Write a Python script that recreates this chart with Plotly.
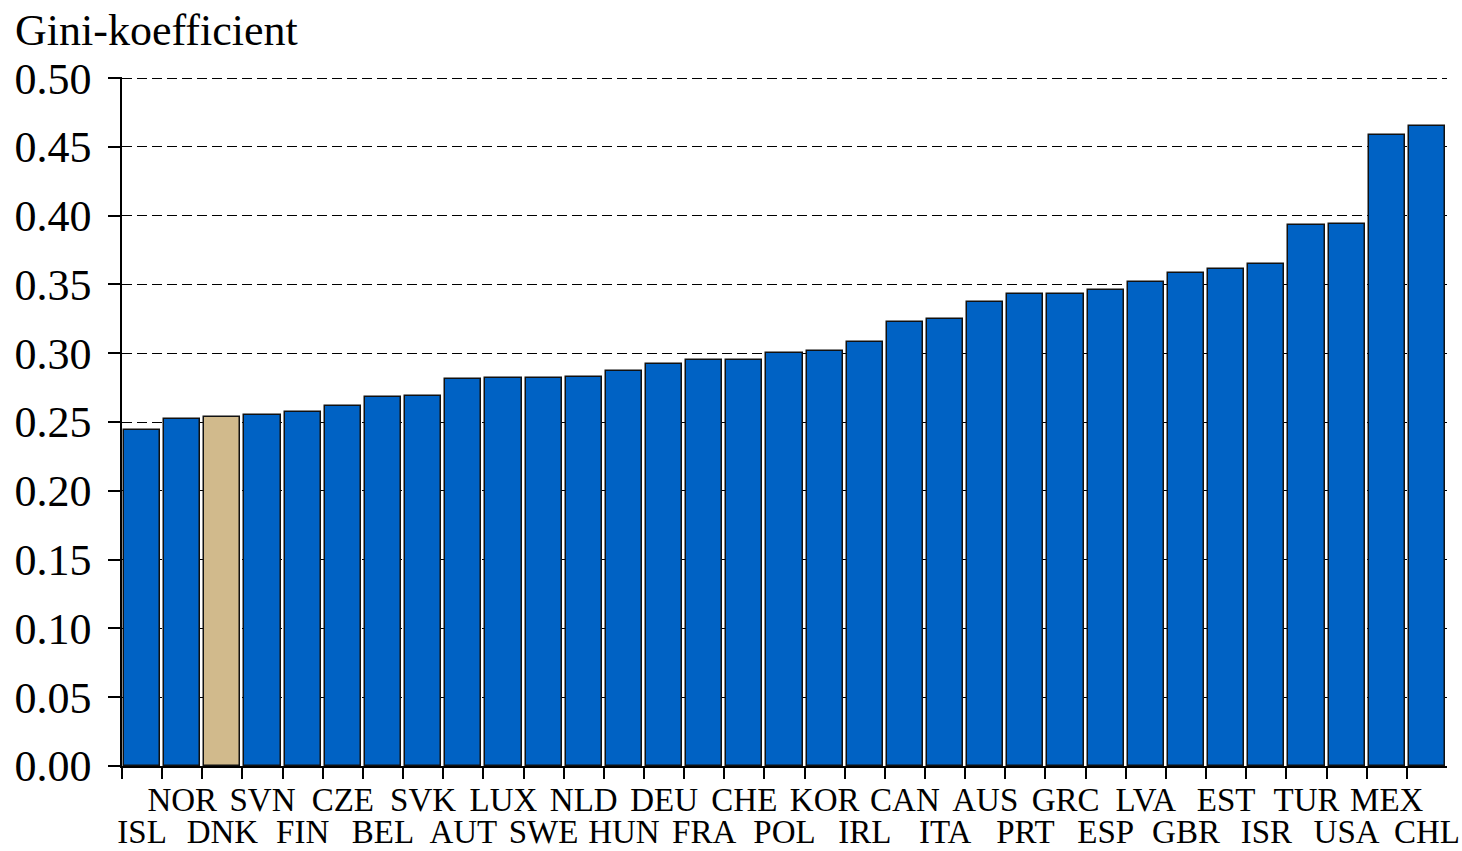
import plotly.graph_objects as go

countries = ["ISL", "NOR", "DNK", "SVN", "FIN", "CZE", "BEL", "SVK", "AUT", "LUX", "SWE",
             "NLD", "HUN", "DEU", "FRA", "CHE", "POL", "KOR", "IRL", "CAN", "ITA", "AUS",
             "PRT", "GRC", "ESP", "LVA", "GBR", "EST", "ISR", "TUR", "USA", "MEX", "CHL"]
gini = [0.244, 0.252, 0.254, 0.255, 0.257, 0.262, 0.268, 0.269, 0.281, 0.282, 0.282,
        0.283, 0.287, 0.292, 0.295, 0.295, 0.300, 0.302, 0.308, 0.323, 0.325, 0.337,
        0.343, 0.343, 0.346, 0.352, 0.358, 0.361, 0.365, 0.393, 0.394, 0.459, 0.465]
highlight = "DNK"
y_ticks = [0.00, 0.05, 0.10, 0.15, 0.20, 0.25, 0.30, 0.35, 0.40, 0.45, 0.50]

BLUE = "#0062C4"
TAN = "#D1BA8C"
FONT = "Liberation Serif"

pos = list(range(len(countries)))
colors = [TAN if c == highlight else BLUE for c in countries]
upper_pos = [i for i in pos if i % 2 == 1]
lower_pos = [i for i in pos if i % 2 == 0]
upper_txt = [countries[i] for i in upper_pos]
lower_txt = [countries[i] for i in lower_pos]
boundaries = [i - 0.5 for i in pos]

fig = go.Figure()
fig.add_trace(go.Bar(
    x=pos, y=gini, width=0.9,
    marker=dict(color=colors, line=dict(color="#111111", width=1.5)),
    hoverinfo="x+y", showlegend=False,
))
# invisible trace to carry the second label row axis
fig.add_trace(go.Scatter(
    x=pos, y=gini, xaxis="x2", mode="markers",
    marker=dict(opacity=0), hoverinfo="skip", showlegend=False,
))

xr = [-0.5, len(countries) - 0.5]
fig.update_layout(
    width=1462, height=851,
    margin=dict(l=122, r=15, t=77, b=85),
    paper_bgcolor="white", plot_bgcolor="white",
    font=dict(family=FONT, color="black"),
    bargap=0,
    xaxis=dict(
        range=xr,
        tickmode="array", tickvals=upper_pos, ticktext=upper_txt, tickangle=0,
        ticks="", showgrid=False, zeroline=False, automargin=False,
        showline=True, linecolor="black", linewidth=1.5,
        tickfont=dict(family=FONT, size=33, color="black"),
        ticklabelstandoff=4,
        minor=dict(tickmode="array", tickvals=boundaries, ticks="outside",
                   ticklen=11, tickwidth=1.5, tickcolor="black", showgrid=False),
    ),
    xaxis2=dict(
        overlaying="x", anchor="y", side="bottom",
        range=xr, automargin=False,
        tickmode="array", tickvals=lower_pos, ticktext=lower_txt, tickangle=0,
        ticks="", showgrid=False, zeroline=False, showline=False,
        tickfont=dict(family=FONT, size=33, color="black"),
        ticklabelstandoff=43,
    ),
    yaxis=dict(
        range=[0, 0.5008], automargin=False,
        tickmode="array", tickvals=y_ticks,
        ticktext=[f"{v:.2f}" for v in y_ticks],
        ticks="outside", ticklen=12, tickwidth=1.5, tickcolor="black",
        showline=True, linecolor="black", linewidth=1.5,
        showgrid=True, gridcolor="black", gridwidth=1.3, griddash="10px,5px",
        zeroline=False,
        tickfont=dict(family=FONT, size=44, color="black"),
        ticklabelstandoff=8,
    ),
    annotations=[dict(
        text="Gini-koefficient", xref="paper", yref="paper",
        x=-109 / 1325, y=1 + 47 / 689, xanchor="left", yanchor="middle",
        showarrow=False, font=dict(family=FONT, size=44, color="black"),
    )],
)

fig.write_html(
    "out.html",
    config={"displayModeBar": False},
    post_script="document.body.style.margin='0';document.body.style.overflow='hidden';",
)
